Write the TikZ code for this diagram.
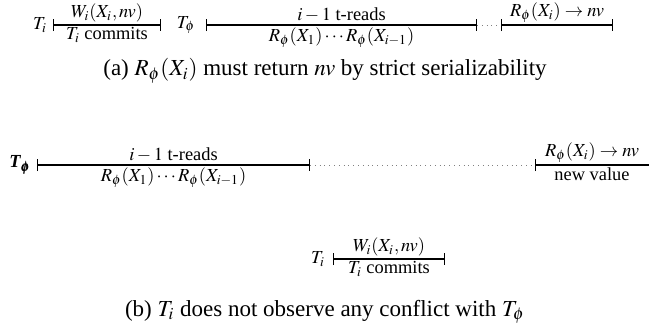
\documentclass[tikz,border=0pt]{standalone}
\usepackage{amsmath}
\usepackage{mathptmx}
\usepackage{fontspec}
\setmainfont{Liberation Serif}
\usetikzlibrary{arrows.meta}

\begin{document}
\begin{tikzpicture}[
    x=0.5pt, y=-0.5pt,
    font=\fontsize{9.2}{11}\selectfont,
    txn/.style    ={inner sep=1pt},
    seg/.style    ={{Bar[width=6pt]}-{Bar[width=6pt]}, line width=0.6pt},
    segopen/.style={{Bar[width=6pt]}-, line width=0.6pt},
    gap/.style    ={dotted, gray, line width=0.4pt},
    lbl/.style    ={inner sep=1pt},
    caption/.style={font=\fontsize{11.5}{14}\selectfont, inner sep=1pt},
  ]
  \useasboundingbox (0,0) rectangle (649,327);

  %% (a) -- T_i commits before T_phi reads X_i
  \node[txn] (tia) at (40,25) {$T_i$};
  \coordinate (wa0) at (53,25);
  \coordinate (wa1) at (161,25);
  \draw[seg] (wa0) -- node[lbl, above] (wla) {$W_i(X_i,nv)$}
                      node[lbl, below] (cla) {$T_i$ commits} (wa1);

  \node[txn] (tpa) at (186,25) {$T_\phi$};
  \coordinate (ra0) at (206,25);
  \coordinate (ra1) at (477,25);
  \coordinate (ra2) at (501,25);
  \coordinate (ra3) at (613,25);
  \draw[seg] (ra0) -- node[lbl, above] (nla) {$i-1$ t-reads}
                      node[lbl, below] (rla) {$R_\phi(X_1)\cdots R_\phi(X_{i-1})$} (ra1);
  \draw[gap] (ra1) -- (ra2);
  \draw[seg] (ra2) -- node[lbl, above] (xla) {$R_\phi(X_i)\rightarrow nv$} (ra3);

  \node[caption] (capa) at (325,71) {(a) $R_\phi(X_i)$ must return $nv$ by strict serializability};

  %% (b) -- T_i runs inside the gap of T_phi
  \node[txn] (tpb) at (20,165) {\textbf{\textit{T}}$_{\pmb{\phi}}$};
  \coordinate (rb0) at (37,165);
  \coordinate (rb1) at (310,165);
  \coordinate (rb2) at (535,165);
  \coordinate (rb3) at (649,165);
  \draw[seg] (rb0) -- node[lbl, above] (nlb) {$i-1$ t-reads}
                      node[lbl, below] (rlb) {$R_\phi(X_1)\cdots R_\phi(X_{i-1})$} (rb1);
  \draw[gap] (rb1) -- (rb2);
  \draw[segopen] (rb2) -- node[lbl, above] (xlb) {$R_\phi(X_i)\rightarrow nv$}
                          node[lbl, below] (vlb) {new value} (rb3);

  \node[txn] (tib) at (318,259) {$T_i$};
  \coordinate (wb0) at (333,259);
  \coordinate (wb1) at (445,259);
  \draw[seg] (wb0) -- node[lbl, above] (wlb) {$W_i(X_i,nv)$}
                      node[lbl, below] (clb) {$T_i$ commits} (wb1);

  \node[caption] (capb) at (325,312) {(b) $T_i$ does not observe any conflict with $T_\phi$};
\end{tikzpicture}
\end{document}
